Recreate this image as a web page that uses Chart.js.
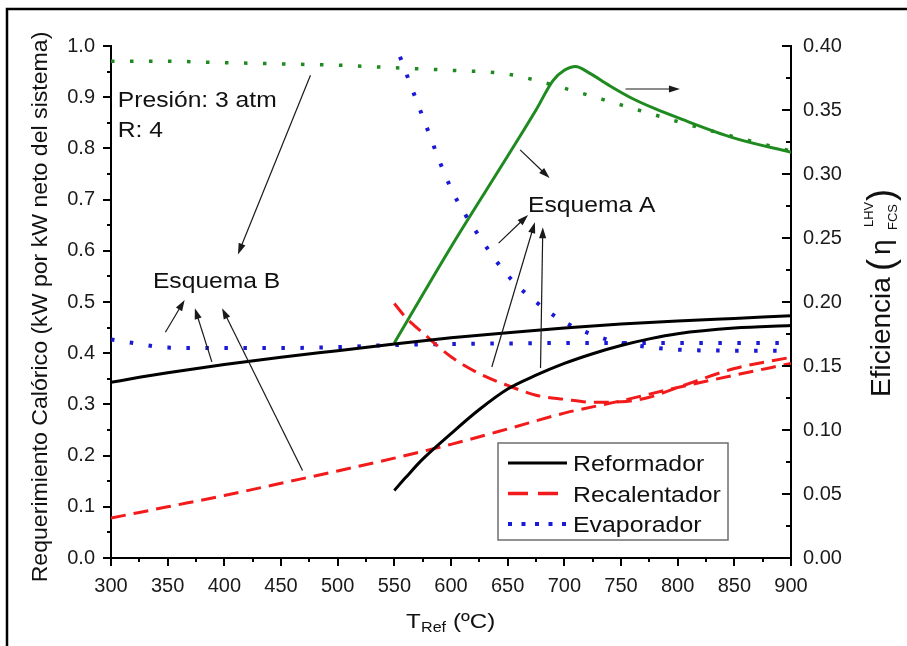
<!DOCTYPE html>
<html>
<head>
<meta charset="utf-8">
<title>Requerimiento calórico y eficiencia</title>
<script src="https://cdn.jsdelivr.net/npm/chart.js@4.4.0/dist/chart.umd.min.js"></script>
<style>
  html, body { margin: 0; padding: 0; background: #fff; }
  canvas { display: block; }
</style>
</head>
<body>
<canvas id="chart" width="907" height="646"></canvas>
<script>
// Temperaturas de reformado (ºC) de cada serie
const tempB = [300, 325, 350, 400, 450, 500, 550, 600, 650, 700, 750, 800, 850, 900];
const tempA = [550, 560, 575, 600, 625, 650, 675, 700, 725, 750, 775, 800, 850, 900];
const tempEvapA = [555, 575, 600, 625, 650, 675, 700, 725, 750, 775, 800, 850, 900];
const tempEffA = [550, 600, 650, 675, 690, 700, 710, 720, 740, 760, 780, 800, 850, 900];

// Esquema B (kW por kW neto)
const reformadorB = [0.343, 0.353, 0.362, 0.378, 0.392, 0.405, 0.418, 0.430, 0.440, 0.449, 0.457, 0.463, 0.468, 0.473];
const recalentadorB = [0.078, 0.089, 0.100, 0.122, 0.146, 0.170, 0.195, 0.222, 0.252, 0.283, 0.307, 0.333, 0.357, 0.380];
const evaporadorB = [0.427, 0.418, 0.411, 0.410, 0.410, 0.412, 0.416, 0.418, 0.419, 0.420, 0.420, 0.420, 0.420, 0.420];
// eficiencia LHV esquema B (eje derecho)
const eficienciaB = [0.388, 0.388, 0.388, 0.387, 0.386, 0.385, 0.383, 0.381, 0.378, 0.367, 0.354, 0.341, 0.329, 0.318];

// Esquema A
const reformadorA = [0.132, 0.157, 0.193, 0.243, 0.290, 0.330, 0.357, 0.380, 0.399, 0.415, 0.428, 0.438, 0.449, 0.454];
const recalentadorA = [0.497, 0.470, 0.440, 0.393, 0.360, 0.337, 0.318, 0.310, 0.304, 0.305, 0.314, 0.333, 0.370, 0.392];
const evaporadorA = [0.979, 0.862, 0.722, 0.628, 0.552, 0.500, 0.461, 0.436, 0.420, 0.412, 0.407, 0.405, 0.405];
const eficienciaA = [0.168, 0.243, 0.314, 0.350, 0.373, 0.381, 0.384, 0.380, 0.369, 0.359, 0.351, 0.344, 0.328, 0.317];

// Etiquetas de los ejes
const xTicks = [300, 350, 400, 450, 500, 550, 600, 650, 700, 750, 800, 850, 900];
const yLeftTicks = [0.0, 0.1, 0.2, 0.3, 0.4, 0.5, 0.6, 0.7, 0.8, 0.9, 1.0];
const yRightTicks = [0.00, 0.05, 0.10, 0.15, 0.20, 0.25, 0.30, 0.35, 0.40];

const FONT = "'Liberation Sans', Arial, Helvetica, sans-serif";
const NEGRO = "#000000";
const ROJO = "#f21a1a";
const AZUL = "#1a1ad6";
const VERDE = "#1f8a1f";

const DASH_RECAL = [15, 8];
const DOT = [3.5, 15.5];

// flechas de anotación en unidades del eje izquierdo [x1, y1, x2, y2]
const flechas = [
  [476, 0.943, 412, 0.593],
  [348, 0.441, 365, 0.504],
  [389, 0.383, 374, 0.488],
  [469, 0.171, 398, 0.488],
  [661, 0.797, 687, 0.742],
  [754, 0.916, 802, 0.916],
  [642, 0.615, 668, 0.670],
  [636, 0.373, 674, 0.656],
  [679, 0.371, 681, 0.646],
];

const notas = [
  { text: "Presión: 3 atm", x: 306, y: 0.881 },
  { text: "R: 4", x: 306, y: 0.822 },
  { text: "Esquema B", x: 337, y: 0.528 },
  { text: "Esquema A", x: 668, y: 0.676 },
];

const leyenda = [
  { label: "Reformador", color: NEGRO, dash: [], width: 3 },
  { label: "Recalentador", color: ROJO, dash: [20, 10], width: 3.5 },
  { label: "Evaporador", color: AZUL, dash: [4, 9.5], width: 4 },
];

function puntos(xs, ys) {
  return xs.map((x, i) => ({ x: x, y: ys[i] }));
}

function serie(xs, ys, color, dash, eje, width) {
  return {
    data: puntos(xs, ys),
    borderColor: color,
    borderWidth: width || 3,
    borderDash: dash,
    pointRadius: 0,
    fill: false,
    cubicInterpolationMode: "monotone",
    yAxisID: eje,
  };
}

function texto(ctx, str, x, y, size, sx) {
  ctx.save();
  ctx.translate(x, y);
  ctx.scale(sx, 1);
  ctx.font = size + "px " + FONT;
  ctx.fillText(str, 0, 0);
  ctx.restore();
}

function flecha(ctx, x1, y1, x2, y2) {
  const ang = Math.atan2(y2 - y1, x2 - x1);
  const len = 11;
  const half = 3.6;
  const c = Math.cos(ang);
  const s = Math.sin(ang);
  ctx.beginPath();
  ctx.moveTo(x1, y1);
  ctx.lineTo(x2 - c * len * 0.7, y2 - s * len * 0.7);
  ctx.stroke();
  ctx.beginPath();
  ctx.moveTo(x2, y2);
  ctx.lineTo(x2 - len * c + half * s, y2 - len * s - half * c);
  ctx.lineTo(x2 - len * c - half * s, y2 - len * s + half * c);
  ctx.closePath();
  ctx.fill();
}

// marco, marcas menores, anotaciones, leyenda y títulos de ejes
const decoracion = {
  id: "decoracion",
  beforeDraw(chart) {
    const ctx = chart.ctx;
    ctx.save();
    ctx.fillStyle = "#fff";
    ctx.fillRect(0, 0, chart.width, chart.height);
    ctx.strokeStyle = "#000";
    ctx.lineWidth = 2.5;
    ctx.beginPath();
    ctx.moveTo(7, 646);
    ctx.lineTo(7, 9);
    ctx.lineTo(907, 9);
    ctx.stroke();
    ctx.restore();
  },
  afterDraw(chart) {
    const ctx = chart.ctx;
    const { x, y, y2 } = chart.scales;
    const area = chart.chartArea;
    ctx.save();

    // marcas de los ejes
    ctx.strokeStyle = "#000";
    ctx.lineWidth = 2;
    ctx.beginPath();
    for (let i = 0; i <= 24; i++) {
      const px = Math.round(x.getPixelForValue(300 + i * 25));
      const l = i % 2 === 0 ? 8 : 4;
      ctx.moveTo(px, area.bottom);
      ctx.lineTo(px, area.bottom + l);
    }
    for (let i = 0; i <= 20; i++) {
      const py = Math.round(y.getPixelForValue(i * 0.05));
      const l = i % 2 === 0 ? 8 : 4;
      ctx.moveTo(area.left, py);
      ctx.lineTo(area.left - l, py);
    }
    for (let i = 0; i <= 16; i++) {
      const py = Math.round(y2.getPixelForValue(i * 0.025));
      const l = i % 2 === 0 ? 9 : 5;
      ctx.moveTo(area.right, py);
      ctx.lineTo(area.right - l, py);
    }
    ctx.stroke();

    // flechas
    ctx.strokeStyle = "#1a1a1a";
    ctx.fillStyle = "#1a1a1a";
    ctx.lineWidth = 1.2;
    flechas.forEach((f) => {
      flecha(ctx, x.getPixelForValue(f[0]), y.getPixelForValue(f[1]),
        x.getPixelForValue(f[2]), y.getPixelForValue(f[3]));
    });

    // textos
    ctx.fillStyle = "#111";
    ctx.textBaseline = "alphabetic";
    ctx.textAlign = "left";
    notas.forEach((n) => {
      texto(ctx, n.text, x.getPixelForValue(n.x), y.getPixelForValue(n.y), 22, 1.12);
    });

    // leyenda
    const lx = area.left + 387;
    const ly = area.top + 397;
    ctx.strokeStyle = "#6e6e6e";
    ctx.lineWidth = 1.5;
    ctx.strokeRect(lx, ly, 230, 97);
    leyenda.forEach((item, i) => {
      const cy = ly + 20 + i * 30.5;
      ctx.strokeStyle = item.color;
      ctx.lineWidth = item.width;
      ctx.setLineDash(item.dash);
      ctx.beginPath();
      ctx.moveTo(lx + 10, cy);
      ctx.lineTo(lx + 69, cy);
      ctx.stroke();
      ctx.setLineDash([]);
      ctx.fillStyle = "#111";
      texto(ctx, item.label, lx + 75, cy + 8, 22, 1.13);
    });

    // título eje izquierdo
    ctx.fillStyle = "#111";
    ctx.save();
    ctx.translate(47, 307);
    ctx.rotate(-Math.PI / 2);
    ctx.scale(1.05, 1);
    ctx.font = "22px " + FONT;
    ctx.textAlign = "center";
    ctx.fillText("Requerimiento Calórico (kW por kW neto del sistema)", 0, 0);
    ctx.restore();

    // título eje x
    ctx.textAlign = "left";
    texto(ctx, "T", 406, 628, 21, 1.15);
    texto(ctx, "Ref", 421, 632, 14, 1.15);
    texto(ctx, "(ºC)", 453, 628, 21, 1.15);

    // título eje derecho
    ctx.save();
    ctx.translate(890, 397);
    ctx.rotate(-Math.PI / 2);
    ctx.font = "28px " + FONT;
    ctx.fillText("Eficiencia", 0, 0);
    ctx.font = "36px " + FONT;
    ctx.fillText("(", 126, 3);
    ctx.font = "28px " + FONT;
    ctx.fillText("η", 142, 0);
    ctx.font = "13px " + FONT;
    ctx.fillText("LHV", 170, -17);
    ctx.fillText("FCS", 167, 7);
    ctx.font = "36px " + FONT;
    ctx.fillText(")", 196, 3);
    ctx.restore();

    ctx.restore();
  },
};

const ejeComun = {
  grid: { display: false, drawTicks: false },
  border: { display: true, color: "#000", width: 2 },
};

new Chart(document.getElementById("chart"), {
  type: "line",
  data: {
    datasets: [
      serie(tempB, reformadorB, NEGRO, [], "y"),
      serie(tempA, reformadorA, NEGRO, [], "y"),
      serie(tempB, recalentadorB, ROJO, DASH_RECAL, "y"),
      serie(tempA, recalentadorA, ROJO, DASH_RECAL, "y"),
      serie(tempB, evaporadorB, AZUL, DOT, "y", 4),
      serie(tempEvapA, evaporadorA, AZUL, DOT, "y", 4),
      serie(tempEffA, eficienciaA, VERDE, [], "y2"),
      serie(tempB, eficienciaB, VERDE, DOT, "y2", 3.5),
    ],
  },
  options: {
    responsive: false,
    animation: false,
    devicePixelRatio: 1,
    layout: { padding: { top: 46, left: 0, right: 0, bottom: 0 } },
    plugins: { legend: { display: false }, tooltip: { enabled: false } },
    scales: {
      x: {
        ...ejeComun,
        type: "linear",
        position: "bottom",
        min: 300,
        max: 900,
        afterBuildTicks: (s) => { s.ticks = xTicks.map((v) => ({ value: v })); },
        ticks: { font: { family: FONT, size: 20 }, color: "#1a1a1a", padding: 16, maxRotation: 0, autoSkip: false },
        afterFit: (s) => { s.height = 88; },
      },
      y: {
        ...ejeComun,
        position: "left",
        min: 0,
        max: 1,
        afterBuildTicks: (s) => { s.ticks = yLeftTicks.map((v) => ({ value: v })); },
        ticks: { font: { family: FONT, size: 20 }, color: "#1a1a1a", padding: 16, callback: (v) => v.toFixed(1) },
        afterFit: (s) => { s.width = 111; },
      },
      y2: {
        ...ejeComun,
        position: "right",
        min: 0,
        max: 0.4,
        afterBuildTicks: (s) => { s.ticks = yRightTicks.map((v) => ({ value: v })); },
        ticks: { font: { family: FONT, size: 20 }, color: "#1a1a1a", padding: 12, callback: (v) => v.toFixed(2) },
        afterFit: (s) => { s.width = 116; },
      },
    },
  },
  plugins: [decoracion],
});
</script>
</body>
</html>
